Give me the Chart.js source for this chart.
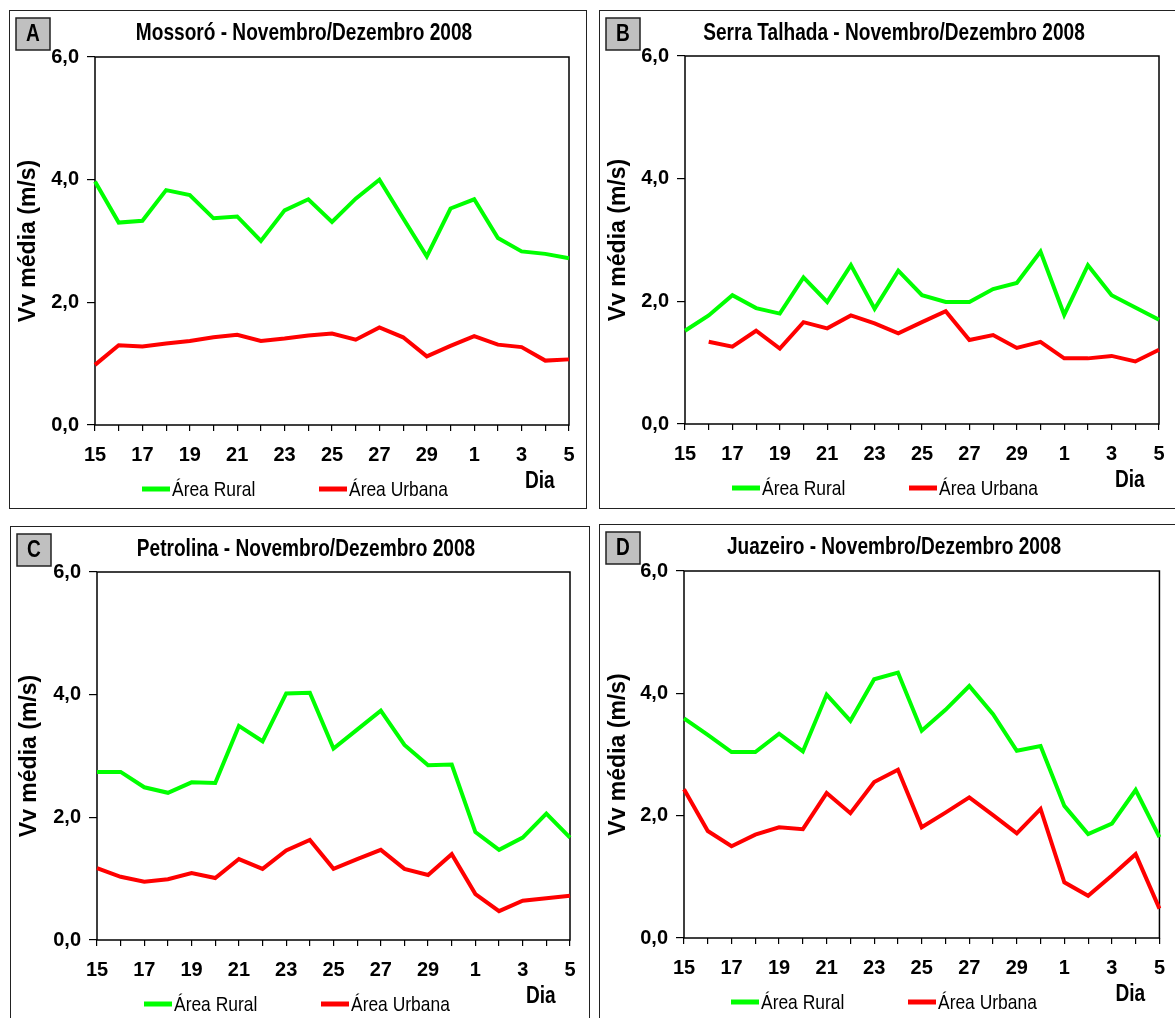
<!DOCTYPE html>
<html>
<head>
<meta charset="utf-8">
<script src="https://cdn.jsdelivr.net/npm/chart.js@4.4.1/dist/chart.umd.min.js"></script>
<style>
  html, body { margin: 0; padding: 0; background: #fff; }
  body { width: 1175px; height: 1018px; position: relative; overflow: hidden; }
  .frame { position: absolute; border: 1.5px solid #222; box-sizing: border-box; }
  canvas { position: absolute; }
</style>
</head>
<body>
<script>
// Days: 15–30 November, then 1–5 December 2008
const dias = ['15','16','17','18','19','20','21','22','23','24','25','26','27','28','29','30','1','2','3','4','5'];
const yTicks = [0, 2, 4, 6];

// Mean wind speed (m/s)
const mossoroRural   = [3.97,3.30,3.33,3.83,3.75,3.37,3.40,3.00,3.50,3.68,3.31,3.69,4.00,3.37,2.75,3.53,3.68,3.05,2.83,2.79,2.72];
const mossoroUrbana  = [0.98,1.30,1.28,1.33,1.37,1.43,1.47,1.37,1.41,1.46,1.49,1.39,1.59,1.43,1.12,1.29,1.45,1.31,1.27,1.05,1.07];

const serraRural     = [1.52,1.77,2.10,1.89,1.80,2.39,1.99,2.59,1.88,2.50,2.10,1.99,1.99,2.20,2.30,2.81,1.78,2.59,2.10,1.90,1.70];
const serraUrbana    = [null,1.34,1.26,1.52,1.23,1.66,1.56,1.77,1.64,1.48,1.66,1.84,1.37,1.45,1.24,1.34,1.07,1.07,1.11,1.02,1.21];

const petrolinaRural = [2.74,2.74,2.49,2.40,2.57,2.56,3.49,3.24,4.02,4.03,3.12,3.43,3.74,3.18,2.85,2.86,1.76,1.47,1.67,2.06,1.67];
const petrolinaUrbana= [1.17,1.03,0.95,0.99,1.09,1.01,1.32,1.16,1.46,1.63,1.16,1.32,1.47,1.16,1.06,1.40,0.75,0.47,0.64,0.68,0.72];

const juazeiroRural  = [3.59,3.32,3.04,3.04,3.34,3.05,3.98,3.55,4.23,4.34,3.39,3.73,4.12,3.66,3.06,3.14,2.16,1.70,1.87,2.42,1.65];
const juazeiroUrbana = [2.43,1.75,1.50,1.69,1.81,1.78,2.37,2.04,2.55,2.75,1.81,2.05,2.30,2.01,1.71,2.11,0.91,0.69,1.02,1.37,0.48];

const SANS = "'Liberation Sans', Arial, sans-serif";
const NARROW_SCALE = 0.83;   // horizontal squeeze for the narrow captions
const GREEN = '#00FF00';
const RED = '#FF0000';

// Panel frames and plot rectangles in page pixels: [left, top, right, bottom]
const panels = [
  { letter: 'A', title: 'Mossoró - Novembro/Dezembro 2008',       rural: mossoroRural,   urbana: mossoroUrbana,
    box: [9, 10, 587, 509],   plot: [95, 57, 569, 425] },
  { letter: 'B', title: 'Serra Talhada - Novembro/Dezembro 2008', rural: serraRural,     urbana: serraUrbana,
    box: [599, 10, 1177, 509], plot: [685, 56, 1159, 424] },
  { letter: 'C', title: 'Petrolina - Novembro/Dezembro 2008',     rural: petrolinaRural, urbana: petrolinaUrbana,
    box: [10, 526, 590, 1022], plot: [97, 572, 570, 940] },
  { letter: 'D', title: 'Juazeiro - Novembro/Dezembro 2008',      rural: juazeiroRural,  urbana: juazeiroUrbana,
    box: [599, 524, 1177, 1022], plot: [684, 571, 1161, 938] }
];

// Text squeezed horizontally around its anchor point
function narrowText(ctx, text, x, y, font, align) {
  ctx.save();
  ctx.font = font;
  ctx.textAlign = align;
  ctx.textBaseline = 'middle';
  ctx.translate(x, y);
  ctx.scale(NARROW_SCALE, 1);
  ctx.fillText(text, 0, 0);
  ctx.restore();
}

// Frame around the plot, panel letter, title, legend and axis caption
const panelDecor = {
  id: 'panelDecor',
  beforeDatasetsDraw(chart) {
    const { ctx, chartArea: a } = chart;
    ctx.save();
    ctx.strokeStyle = '#000';
    ctx.lineWidth = 1.5;
    ctx.strokeRect(a.left, a.top, a.right - a.left, a.bottom - a.top);
    ctx.restore();
  },
  afterDraw(chart, args, opts) {
    const { ctx, chartArea: a } = chart;
    ctx.save();
    // letter tag
    ctx.fillStyle = '#C0C0C0';
    ctx.fillRect(7, 8, 34, 32);
    ctx.strokeStyle = '#222';
    ctx.lineWidth = 1.5;
    ctx.strokeRect(7, 8, 34, 32);
    ctx.fillStyle = '#000';
    narrowText(ctx, opts.letter, 24, 25, 'bold 23px ' + SANS, 'center');
    // title
    narrowText(ctx, opts.title, opts.titleX, 24, 'bold 23px ' + SANS, 'center');
    // legend
    const ly = a.bottom + 64;
    chart.data.datasets.forEach((ds, i) => {
      const x0 = a.left + (i === 0 ? 47 : 224);
      ctx.strokeStyle = ds.borderColor;
      ctx.lineWidth = 5;
      ctx.beginPath();
      ctx.moveTo(x0, ly);
      ctx.lineTo(x0 + 28, ly);
      ctx.stroke();
      ctx.fillStyle = '#000';
      narrowText(ctx, ds.label, x0 + 30, ly + 1, '21px ' + SANS, 'left');
    });
    // x-axis caption
    narrowText(ctx, 'Dia', a.right - 44, a.bottom + 57, 'bold 23px ' + SANS, 'left');
    ctx.restore();
  }
};

panels.forEach(p => {
  const [bl, bt, br, bb] = p.box;
  const [pl, pt, pr, pb] = p.plot;
  const w = br - bl, h = bb - bt;

  const frame = document.createElement('div');
  frame.className = 'frame';
  Object.assign(frame.style, { left: bl + 'px', top: bt + 'px', width: w + 'px', height: h + 'px' });
  document.body.appendChild(frame);

  const cv = document.createElement('canvas');
  cv.width = w; cv.height = h;
  Object.assign(cv.style, { left: bl + 'px', top: bt + 'px', width: w + 'px', height: h + 'px' });
  document.body.appendChild(cv);

  new Chart(cv, {
    type: 'line',
    data: {
      labels: dias,
      datasets: [
        { label: 'Área Rural',  data: p.rural,  borderColor: GREEN, backgroundColor: GREEN },
        { label: 'Área Urbana', data: p.urbana, borderColor: RED,   backgroundColor: RED }
      ]
    },
    options: {
      responsive: false,
      animation: false,
      devicePixelRatio: 1,
      layout: { padding: { left: 0, top: pt - bt, right: br - pr, bottom: 0 } },
      elements: {
        line: { borderWidth: 4, tension: 0, borderCapStyle: 'butt', borderJoinStyle: 'miter' },
        point: { radius: 0, hoverRadius: 0 }
      },
      spanGaps: false,
      scales: {
        x: {
          type: 'category',
          offset: false,
          afterFit: s => { s.height = bb - pb; },
          border: { display: false },
          grid: { drawOnChartArea: false, drawTicks: true, tickLength: 6, color: '#000', lineWidth: 1.2 },
          ticks: {
            autoSkip: false, maxRotation: 0, minRotation: 0, padding: 12, color: '#000',
            font: { family: SANS, size: 20, weight: 'bold' },
            callback: (v, i) => (i % 2 === 0 ? dias[i] : '')
          }
        },
        y: {
          min: 0, max: 6,
          afterFit: s => { s.width = pl - bl; },
          afterBuildTicks: s => { s.ticks = yTicks.map(v => ({ value: v })); },
          border: { display: false },
          grid: { drawOnChartArea: false, drawTicks: true, tickLength: 8, color: '#000', lineWidth: 1.2 },
          ticks: {
            padding: 8, color: '#000',
            font: { family: SANS, size: 20, weight: 'bold' },
            callback: v => v.toFixed(1).replace('.', ',')
          },
          title: {
            display: true, text: 'Vv média (m/s)', color: '#000',
            font: { family: SANS, size: 23, weight: 'bold' },
            padding: { top: 6, bottom: 0 }
          }
        }
      },
      plugins: {
        legend: { display: false },
        title: { display: false },
        tooltip: { enabled: false },
        panelDecor: { letter: p.letter, title: p.title, titleX: w / 2 + 6 }
      }
    },
    plugins: [panelDecor]
  });
});
</script>
</body>
</html>
